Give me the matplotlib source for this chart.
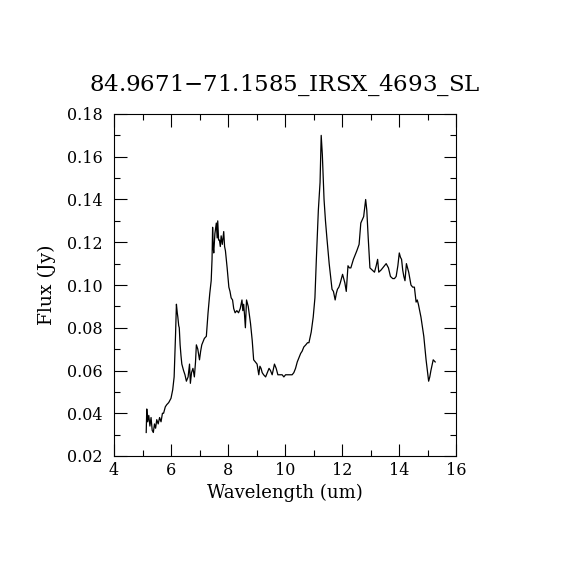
import matplotlib
matplotlib.use("Agg")
import matplotlib.pyplot as plt
from matplotlib.ticker import MultipleLocator

# spectrum (wavelength in um, flux in Jy)
wave = [5.13, 5.15, 5.18, 5.22, 5.26, 5.30, 5.34, 5.38, 5.42, 5.46, 5.50, 5.55,
        5.60, 5.65, 5.70, 5.74, 5.80, 5.85, 5.92, 6.00, 6.06, 6.11, 6.16, 6.19,
        6.22, 6.24, 6.27, 6.29, 6.32, 6.35, 6.38, 6.44, 6.49, 6.54, 6.60, 6.65,
        6.68, 6.72, 6.77, 6.82, 6.86, 6.89, 6.94, 7.00, 7.04, 7.08, 7.17, 7.24,
        7.30, 7.36, 7.41, 7.44, 7.46, 7.48, 7.50, 7.54, 7.59, 7.62, 7.64, 7.67,
        7.70, 7.73, 7.76, 7.80, 7.85, 7.88, 7.91, 7.97, 8.03, 8.07, 8.11, 8.16,
        8.20, 8.25, 8.31, 8.37, 8.43, 8.49, 8.52, 8.55, 8.58, 8.61, 8.65, 8.71,
        8.75, 8.79, 8.85, 8.90, 8.96, 9.02, 9.08, 9.12, 9.16, 9.20, 9.25, 9.32,
        9.38, 9.44, 9.49, 9.55, 9.63, 9.69, 9.75, 9.82, 9.90, 9.96, 10.02, 10.08,
        10.15, 10.25, 10.31, 10.37, 10.43, 10.49, 10.55, 10.60, 10.66, 10.73, 10.79,
        10.84, 10.92, 10.99, 11.05, 11.10, 11.17, 11.23, 11.27, 11.31, 11.37, 11.42,
        11.47, 11.55, 11.60, 11.65, 11.70, 11.76, 11.80, 11.84, 11.89, 11.94, 12.02,
        12.06, 12.10, 12.15, 12.21, 12.26, 12.31, 12.40, 12.46, 12.52, 12.60, 12.66,
        12.76, 12.83, 12.87, 12.92, 12.98, 13.06, 13.14, 13.20, 13.25, 13.29, 13.37,
        13.43, 13.49, 13.55, 13.63, 13.70, 13.78, 13.84, 13.90, 13.96, 14.01, 14.05,
        14.09, 14.13, 14.17, 14.21, 14.26, 14.30, 14.34, 14.42, 14.48, 14.54, 14.60,
        14.64, 14.68, 14.77, 14.87, 14.95, 15.04, 15.08, 15.12, 15.20, 15.27]
flux = [0.031, 0.042, 0.036, 0.039, 0.034, 0.038, 0.032, 0.031, 0.035, 0.033, 0.037, 0.035,
        0.038, 0.036, 0.040, 0.040, 0.043, 0.044, 0.045, 0.047, 0.051, 0.057, 0.077, 0.091,
        0.087, 0.085, 0.081, 0.080, 0.072, 0.067, 0.063, 0.060, 0.058, 0.055, 0.057, 0.063,
        0.054, 0.059, 0.061, 0.057, 0.064, 0.072, 0.070, 0.065, 0.069, 0.072, 0.075, 0.076,
        0.087, 0.096, 0.102, 0.112, 0.127, 0.118, 0.115, 0.124, 0.129, 0.122, 0.130, 0.121,
        0.121, 0.118, 0.123, 0.119, 0.125, 0.118, 0.116, 0.108, 0.099, 0.097, 0.094, 0.093,
        0.089, 0.087, 0.088, 0.087, 0.089, 0.093, 0.088, 0.091, 0.086, 0.080, 0.093, 0.090,
        0.086, 0.082, 0.074, 0.065, 0.064, 0.063, 0.058, 0.062, 0.061, 0.059, 0.058, 0.057,
        0.059, 0.061, 0.060, 0.058, 0.063, 0.061, 0.058, 0.058, 0.058, 0.057, 0.058, 0.058,
        0.058, 0.058, 0.059, 0.061, 0.064, 0.066, 0.068, 0.069, 0.071, 0.072, 0.073,
        0.073, 0.078, 0.085, 0.094, 0.112, 0.135, 0.148, 0.170, 0.161, 0.140, 0.130,
        0.122, 0.110, 0.104, 0.098, 0.097, 0.093, 0.096, 0.098, 0.099, 0.101, 0.105,
        0.103, 0.101, 0.097, 0.109, 0.108, 0.108, 0.112, 0.114, 0.116, 0.119, 0.129,
        0.132, 0.140, 0.135, 0.122, 0.108, 0.107, 0.106, 0.109, 0.112, 0.106, 0.107,
        0.108, 0.109, 0.110, 0.108, 0.104, 0.103, 0.103, 0.104, 0.109, 0.115, 0.113,
        0.112, 0.107, 0.104, 0.102, 0.110, 0.108, 0.106, 0.100, 0.099, 0.099, 0.092,
        0.093, 0.091, 0.085, 0.076, 0.065, 0.055, 0.057, 0.060, 0.065, 0.064]

title = "84.9671$-$71.1585_IRSX_4693_SL"

plt.rcParams['font.family'] = ['DejaVu Serif']

fig = plt.figure(figsize=(5.7, 5.7), dpi=100)
ax = fig.add_axes([0.2, 0.2, 0.6, 0.6])
ax.plot(wave, flux, 'k-', lw=0.9)

ax.set_xlim(4, 16)
ax.set_ylim(0.02, 0.18)
ax.xaxis.set_major_locator(MultipleLocator(2))
ax.xaxis.set_minor_locator(MultipleLocator(1))
ax.yaxis.set_major_locator(MultipleLocator(0.02))
ax.yaxis.set_minor_locator(MultipleLocator(0.01))
ax.set_yticklabels(['%.2f' % v for v in ax.get_yticks()])
ax.tick_params(which='both', direction='in', top=True, right=True, labelsize=11.5, width=0.8)
ax.tick_params(which='major', length=9)
ax.tick_params(which='minor', length=4.5)
ax.tick_params(axis='x', which='major', pad=4)
ax.tick_params(axis='y', which='major', pad=8)
for s in ax.spines.values():
    s.set_linewidth(0.8)

ax.set_xlabel('Wavelength (um)', fontsize=13, labelpad=4)
ax.set_ylabel('Flux (Jy)', fontsize=13.5, labelpad=8)
ax.set_title(title, fontsize=16.5, pad=17)

fig.savefig('out.png', dpi=100)
